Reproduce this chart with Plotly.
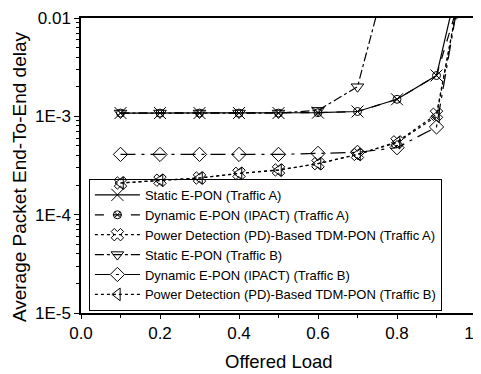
import plotly.graph_objects as go

load = [0.1, 0.2, 0.3, 0.4, 0.5, 0.6, 0.7, 0.8, 0.9, 0.95]
load_sb = [0.1, 0.2, 0.3, 0.4, 0.5, 0.6, 0.7, 0.8]

static_a = [1.08e-3, 1.08e-3, 1.08e-3, 1.08e-3, 1.08e-3, 1.09e-3, 1.12e-3, 1.49e-3, 2.6e-3, 0.019]
dynamic_a = [1.08e-3, 1.08e-3, 1.08e-3, 1.08e-3, 1.08e-3, 1.09e-3, 1.12e-3, 1.49e-3, 2.6e-3, 0.012]
pd_a = [2.1e-4, 2.24e-4, 2.36e-4, 2.63e-4, 2.85e-4, 3.3e-4, 4.1e-4, 5.5e-4, 1.05e-3, 0.012]
static_b = [1.08e-3, 1.08e-3, 1.08e-3, 1.08e-3, 1.08e-3, 1.15e-3, 2.0e-3, 0.066]
dynamic_b = [4.1e-4, 4.1e-4, 4.1e-4, 4.1e-4, 4.1e-4, 4.2e-4, 4.3e-4, 4.8e-4, 7.8e-4, 0.0115]
pd_b = [2.1e-4, 2.24e-4, 2.36e-4, 2.63e-4, 2.83e-4, 3.3e-4, 4.1e-4, 5.4e-4, 1.0e-3, 0.0118]

names = [
    "Static E-PON (Traffic A)",
    "Dynamic E-PON (IPACT) (Traffic A)",
    "Power Detection (PD)-Based TDM-PON (Traffic A)",
    "Static E-PON (Traffic B)",
    "Dynamic E-PON (IPACT) (Traffic B)",
    "Power Detection (PD)-Based TDM-PON (Traffic B)",
]

x_ticks = [0, 0.2, 0.4, 0.6, 0.8, 1.0]
x_ticktext = ["0.0", "0.2", "0.4", "0.6", "0.8", "1.0"]
y_ticks = [1e-5, 1e-4, 1e-3, 1e-2]
y_ticktext = ["1E-5", "1E-4", "1E-3", "0.01"]
x_title = "Offered Load"
y_title = "Average Packet End-To-End delay"

series = [
    (load, static_a, "solid", "x-thin-open", 12),
    (load, dynamic_a, "dash", "circle-x-open", 8),
    (load, pd_a, "dot", "x-open", 11),
    (load_sb, static_b, "dashdot", "triangle-down-open", 11),
    (load, dynamic_b, "longdashdot", "diamond-open", 11),
    (load, pd_b, "dot", "triangle-left-open", 11),
]

fig = go.Figure()
for name, (xs, ys, dash, sym, sz) in zip(names, series):
    fig.add_trace(go.Scatter(
        x=xs, y=ys, name=name, mode="lines+markers",
        line=dict(color="black", width=1.2, dash=dash),
        marker=dict(symbol=sym, size=sz, color="black", line=dict(color="black", width=1)),
        cliponaxis=True,
    ))

minor_vals = [m * 10 ** e for e in (-5, -4, -3) for m in range(2, 10)]

fig.update_layout(
    width=473, height=366,
    margin=dict(l=73, r=5, t=10, b=61),
    paper_bgcolor="white", plot_bgcolor="white",
    font=dict(family="Liberation Sans, Arial, sans-serif", color="black", size=15),
    showlegend=True,
    legend=dict(
        x=0.02, y=0.007, xanchor="left", yanchor="bottom",
        bgcolor="rgba(255,255,255,0)", bordercolor="black", borderwidth=1,
        font=dict(size=13), itemwidth=45, tracegroupgap=0,
    ),
    xaxis=dict(
        range=[0, 1], tickvals=x_ticks, ticktext=x_ticktext,
        ticklabeloverflow="allow", automargin=False,
        showline=True, linecolor="black", linewidth=1.5, mirror=True,
        ticks="outside", ticklen=4, tickcolor="black",
        minor=dict(tickvals=[0.1, 0.3, 0.5, 0.7, 0.9], ticks="outside", ticklen=3, tickcolor="black"),
        showgrid=False, zeroline=False,
        tickfont=dict(size=17),
    ),
    yaxis=dict(
        type="log", range=[-5, -2], automargin=False,
        tickvals=y_ticks, ticktext=y_ticktext,
        showline=True, linecolor="black", linewidth=1.5, mirror=True,
        ticks="outside", ticklen=5, tickcolor="black",
        minor=dict(tickvals=minor_vals, ticks="outside", ticklen=3, tickcolor="black"),
        showgrid=False, zeroline=False,
        tickfont=dict(size=17),
    ),
    annotations=[
        dict(text=x_title, xref="paper", yref="paper", x=0.5, y=-0.163,
             xanchor="center", yanchor="middle", showarrow=False, font=dict(size=18.5)),
        dict(text=y_title, xref="paper", yref="paper", x=-0.157, y=0.464, textangle=-90,
             xanchor="center", yanchor="middle", showarrow=False, font=dict(size=19)),
    ],
)

fig.write_html("out.html")
